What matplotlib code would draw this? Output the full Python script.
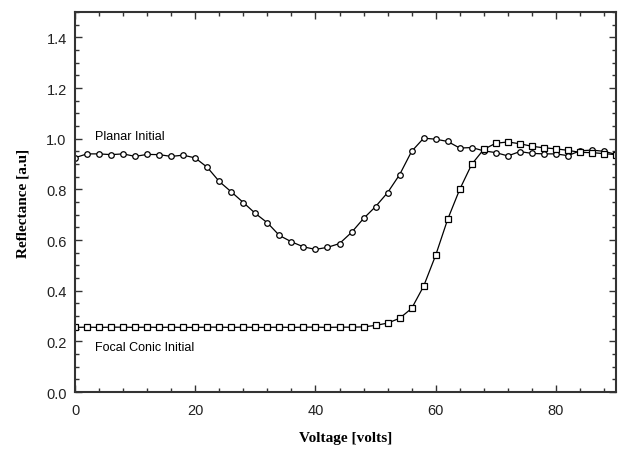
import matplotlib
matplotlib.use('Agg')
import matplotlib.pyplot as plt
from matplotlib.ticker import MultipleLocator

# voltage steps (2 V each)
volts = list(range(0, 92, 2))

# planar initial state (circles)
planar = [0.925, 0.940, 0.940, 0.937, 0.940, 0.930, 0.938, 0.937, 0.930, 0.935,
          0.924, 0.887, 0.831, 0.790, 0.748, 0.705, 0.668, 0.618, 0.593, 0.573,
          0.563, 0.571, 0.586, 0.630, 0.685, 0.732, 0.787, 0.858, 0.950, 1.002,
          0.998, 0.989, 0.963, 0.965, 0.952, 0.945, 0.932, 0.949, 0.942, 0.940,
          0.940, 0.933, 0.952, 0.955, 0.950, 0.938]

# focal conic initial state (squares)
focal = [0.255, 0.256, 0.255, 0.256, 0.256, 0.255, 0.256, 0.255, 0.256, 0.255,
         0.255, 0.256, 0.256, 0.255, 0.256, 0.255, 0.255, 0.256, 0.255, 0.256,
         0.256, 0.255, 0.256, 0.256, 0.257, 0.263, 0.272, 0.291, 0.330, 0.418,
         0.540, 0.682, 0.800, 0.899, 0.958, 0.982, 0.987, 0.980, 0.970, 0.964,
         0.960, 0.954, 0.946, 0.945, 0.941, 0.937]

fig = plt.figure(figsize=(6.23, 4.52), dpi=100)
ax = fig.add_axes([0.1204, 0.1305, 0.8684, 0.8407])

ax.plot(volts, planar, '-o', color='black', lw=0.9, ms=4.0,
        mfc='white', mec='black', mew=0.9)
ax.plot(volts, focal, '-s', color='black', lw=0.9, ms=4.4,
        mfc='white', mec='black', mew=0.9)

ax.text(3.3, 1.01, 'Planar Initial', fontsize=9, family='Liberation Sans',
        va='center', ha='left')
ax.text(3.3, 0.177, 'Focal Conic Initial', fontsize=9, family='Liberation Sans',
        va='center', ha='left')

ax.set_xlim(0, 90)
ax.set_ylim(0, 1.5)
ax.set_xticks([0, 20, 40, 60, 80])
ax.set_yticks([0.0, 0.2, 0.4, 0.6, 0.8, 1.0, 1.2, 1.4])
ax.set_yticklabels(['0.0', '0.2', '0.4', '0.6', '0.8', '1.0', '1.2', '1.4'])
ax.xaxis.set_minor_locator(MultipleLocator(4))
ax.yaxis.set_minor_locator(MultipleLocator(0.05))

ax.tick_params(which='both', direction='in', top=True, right=True,
               labelsize=10.5, color='#333333', width=1.0)
ax.tick_params(which='major', length=5)
ax.tick_params(which='minor', length=3)
ax.tick_params(axis='x', which='major', pad=8)
ax.tick_params(axis='y', which='major', pad=6)
for lab in ax.get_xticklabels() + ax.get_yticklabels():
    lab.set_family('Liberation Sans')
    lab.set_color('#222222')

for sp in ax.spines.values():
    sp.set_linewidth(1.5)
    sp.set_color('#333333')

ax.set_xlabel('Voltage [volts]', family='Liberation Serif', fontweight='bold',
              fontsize=11, labelpad=10)
ax.set_ylabel('Reflectance [a.u]', family='Liberation Serif', fontweight='bold',
              fontsize=11, labelpad=12)

fig.savefig('out.png', dpi=100)
